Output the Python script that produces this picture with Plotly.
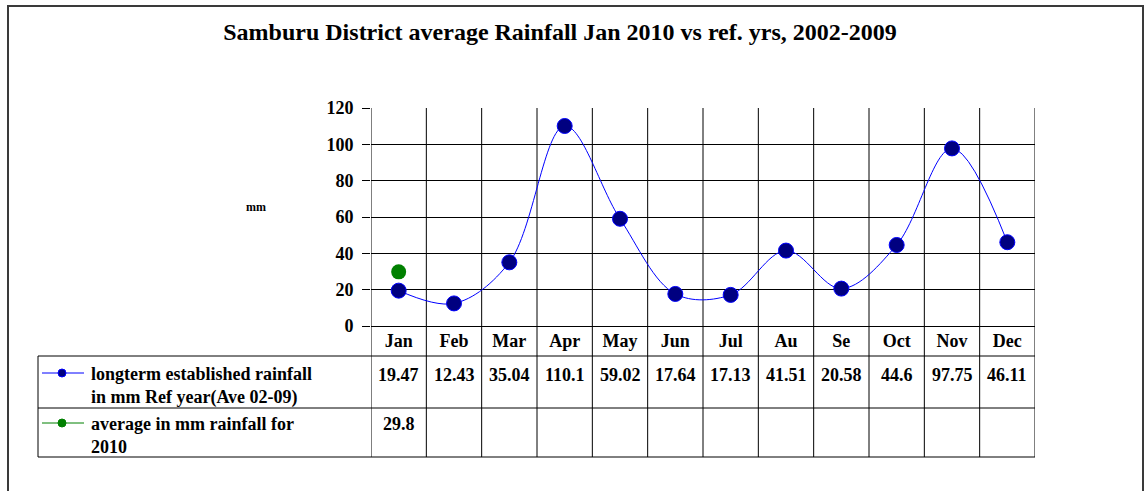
import plotly.graph_objects as go

months = ["Jan", "Feb", "Mar", "Apr", "May", "Jun", "Jul", "Au", "Se", "Oct", "Nov", "Dec"]
ref_avg = [19.47, 12.43, 35.04, 110.1, 59.02, 17.64, 17.13, 41.51, 20.58, 44.6, 97.75, 46.11]
rain_2010 = [29.8]
y_ticks = [0, 20, 40, 60, 80, 100, 120]
ref_name = "longterm established rainfall<br>in mm Ref year(Ave 02-09)"
name_2010 = "average in mm rainfall for<br>2010"
title_text = "Samburu District average Rainfall Jan 2010 vs ref. yrs, 2002-2009"

FONT = "Liberation Serif, Times New Roman, serif"
W, H = 1148, 491
L, R, T, B = 371, 1035, 108, 326  # plot area in pixels


def px_x(px):
    return (px - L) / (R - L)


def px_y(py):
    return (B - py) / (B - T)


def bold(size):
    return dict(size=size, family=FONT, weight="bold", color="black")


x_idx = list(range(len(months)))

fig = go.Figure()
fig.add_trace(go.Scatter(
    x=x_idx, y=ref_avg, name=ref_name, mode="lines+markers", showlegend=False,
    line=dict(color="#0000ff", width=1, shape="spline", smoothing=1),
    marker=dict(size=15, color="#000080", line=dict(color="#0000ff", width=1)),
))
fig.add_trace(go.Scatter(
    x=x_idx[:len(rain_2010)], y=rain_2010, name=name_2010, mode="lines+markers", showlegend=False,
    line=dict(color="#008000", width=1),
    marker=dict(size=15, color="#008000"),
))

shapes = []
bottom = px_y(457)
# column boundaries through the plot and the data table
for k in range(len(months) + 1):
    shapes.append(dict(type="line", xref="x", yref="paper", x0=k - 0.5, x1=k - 0.5,
                       y0=bottom, y1=1, line=dict(color="black", width=1), layer="below"))
# table rows
for py in [356, 408, 457]:
    shapes.append(dict(type="line", xref="paper", yref="paper", x0=px_x(38), x1=1,
                       y0=px_y(py), y1=px_y(py), line=dict(color="black", width=1)))
shapes.append(dict(type="line", xref="paper", yref="paper", x0=px_x(38), x1=px_x(38),
                   y0=px_y(356), y1=bottom, line=dict(color="black", width=1)))
# outer frame
shapes.append(dict(type="rect", xref="paper", yref="paper", x0=px_x(8), x1=px_x(1143),
                   y0=px_y(500), y1=px_y(6), line=dict(color="#3a3a3a", width=2)))

# legend keys inside the data table
annotations = []
for name, color, fill, py in [(ref_name, "#0000ff", "#000080", 373), (name_2010, "#008000", "#008000", 423)]:
    shapes.append(dict(type="line", xref="paper", yref="paper", x0=px_x(42), x1=px_x(84),
                       y0=px_y(py), y1=px_y(py), line=dict(color=color, width=1)))
    shapes.append(dict(type="circle", xref="paper", yref="paper", x0=px_x(58), x1=px_x(66),
                       y0=px_y(py + 4), y1=px_y(py - 4), fillcolor=fill, line=dict(color=color, width=1)))
    annotations.append(dict(x=px_x(89), xref="paper", y=px_y(py - 11), yref="paper", text=name,
                            xanchor="left", yanchor="top", align="left", showarrow=False,
                            font=bold(18)))

for i, v in enumerate(ref_avg):
    annotations.append(dict(x=i, xref="x", y=px_y(375), yref="paper", text=str(v), yanchor="middle",
                            showarrow=False, font=bold(18)))
for i, v in enumerate(rain_2010):
    annotations.append(dict(x=i, xref="x", y=px_y(424), yref="paper", text=str(v), yanchor="middle",
                            showarrow=False, font=bold(18)))
annotations.append(dict(x=px_x(244), xref="paper", y=px_y(207), yref="paper", text="mm",
                        showarrow=False, font=bold(12)))

fig.update_layout(
    width=W, height=H,
    margin=dict(l=L, r=W - R, t=T, b=H - B, pad=0),
    paper_bgcolor="white", plot_bgcolor="white",
    font=dict(family=FONT, size=18, color="black", weight="bold"),
    title=dict(text=title_text, xref="container", x=560 / W, xanchor="center",
               yref="container", y=1 - 32 / H, yanchor="middle", font=bold(24)),
    xaxis=dict(range=[-0.5, len(months) - 0.5], tickvals=x_idx, ticktext=months,
               showgrid=False, zeroline=False, ticks="", showline=False,
               ticklabelstandoff=2, tickfont=bold(18)),
    yaxis=dict(range=[0, 120], tickvals=y_ticks, showgrid=True, gridcolor="black", gridwidth=1,
               zeroline=True, zerolinecolor="black", zerolinewidth=1,
               ticks="outside", ticklen=8, tickcolor="black", showline=False,
               ticklabelstandoff=5, tickfont=bold(18)),
    shapes=shapes, annotations=annotations,
)

fig.write_html("out.html", config={"displayModeBar": False},
               post_script="document.body.style.margin='0';")
